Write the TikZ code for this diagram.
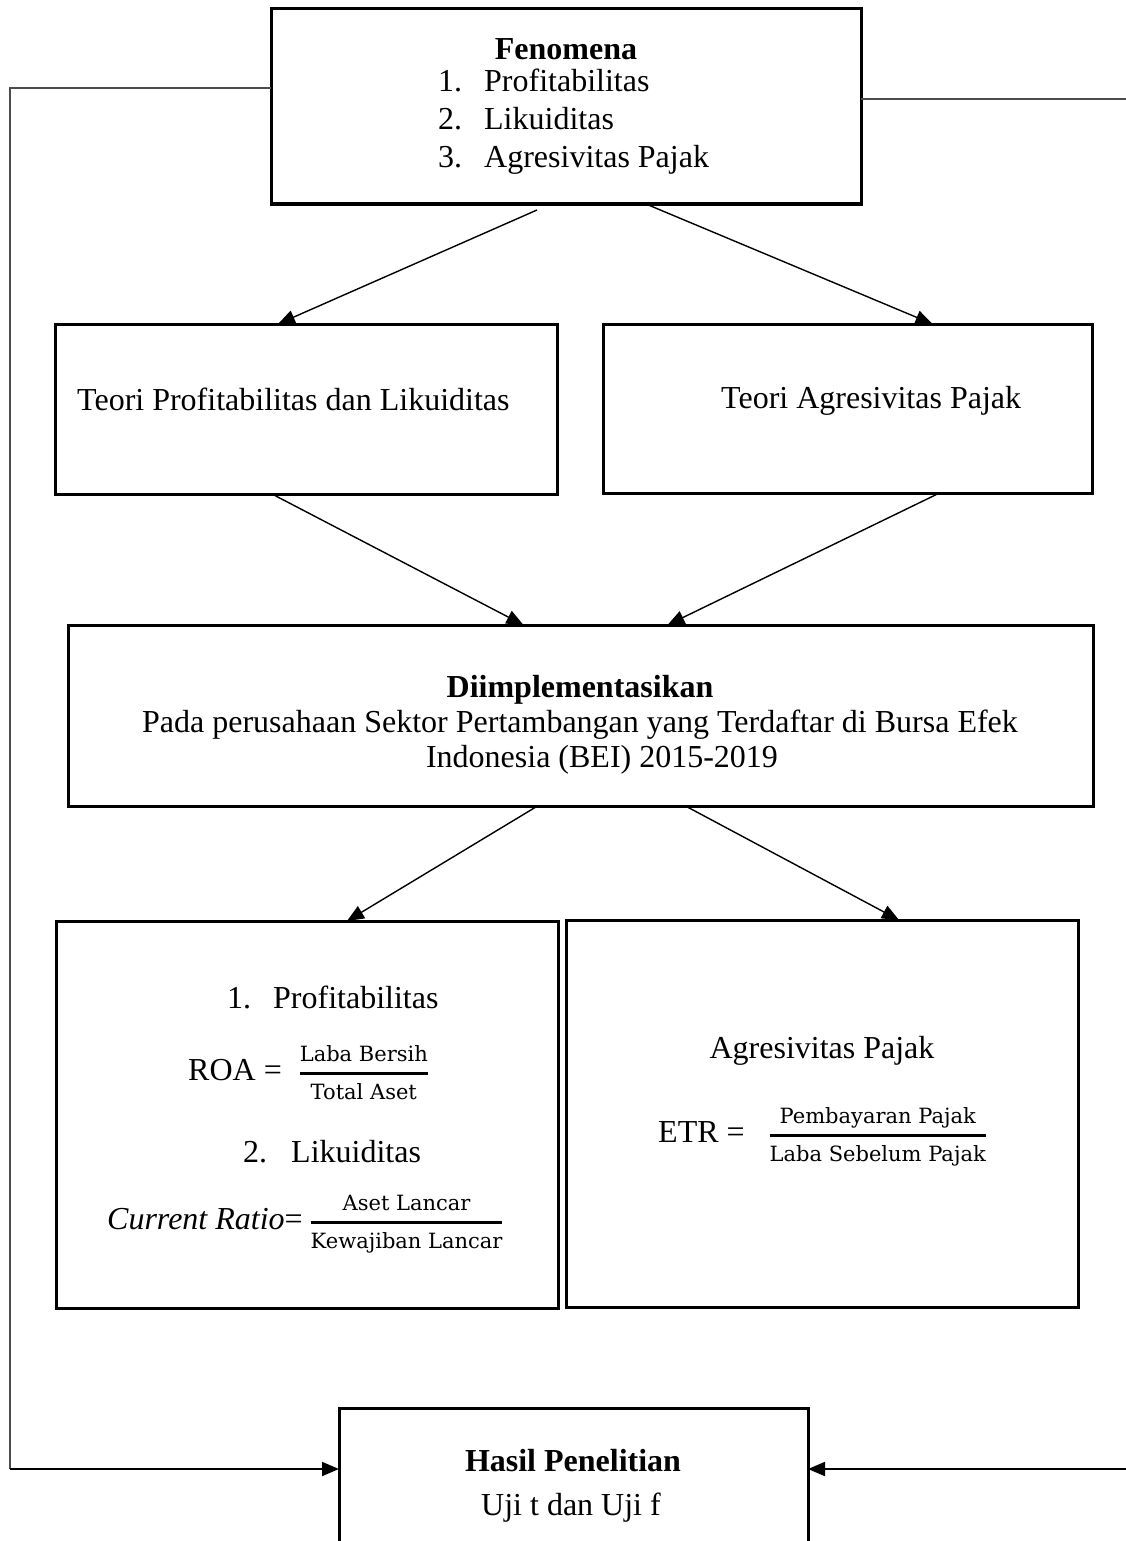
\documentclass[tikz,border=0pt]{standalone}
\usepackage{fontspec}
\setmainfont{Liberation Serif}
\newfontfamily\pecahanfont{DejaVu Serif}
\usetikzlibrary{arrows.meta}
\setlength{\arrayrulewidth}{2.8pt}
\newcommand{\pecahan}[2]{{\renewcommand{\arraystretch}{0.92}%
  \begin{tabular}{@{}c@{}}{\pecahanfont\fontsize{21}{24}\selectfont #1}\\\hline
  {\pecahanfont\fontsize{21}{24}\selectfont #2}\end{tabular}}}
\begin{document}
\begin{tikzpicture}[x=1pt, y=-1pt,
    kotak/.style={draw, rectangle, line width=3pt, inner sep=0pt, outer sep=0pt},
    teks/.style={inner sep=0pt, font=\fontsize{32}{38}\selectfont},
    panah/.style={line width=1.4pt, -{Triangle[length=17pt, width=14pt]}},
    garis/.style={line width=1.8pt, black!70}]
    \useasboundingbox (0,0) rectangle (1125,1541);

    % Kotak
    \node[kotak, minimum width=590pt, minimum height=195pt] (fenomena) at (566,106.5) {};
    \node[kotak, minimum width=502pt, minimum height=170pt] (teoriKiri) at (306,409) {};
    \node[kotak, minimum width=489pt, minimum height=169pt] (teoriKanan) at (847.5,408.5) {};
    \node[kotak, minimum width=1025pt, minimum height=181pt] (implementasi) at (580.5,715.5) {};
    \node[kotak, minimum width=502pt, minimum height=387pt] (rumusKiri) at (307,1114.5) {};
    \node[kotak, minimum width=512pt, minimum height=387pt] (rumusKanan) at (822,1113.5) {};
    \node[kotak, minimum width=469pt, minimum height=192pt] (hasil) at (573.5,1504) {};

    % Teks fenomena
    \node[teks, anchor=base] (judulFenomena) at (566,60) {\textbf{Fenomena}};
    \node[teks, anchor=base west] (fenSatu) at (438,92) {\makebox[46pt][l]{1.}Profitabilitas};
    \node[teks, anchor=base west] (fenDua) at (438,130) {\makebox[46pt][l]{2.}Likuiditas};
    \node[teks, anchor=base west] (fenTiga) at (438,168) {\makebox[46pt][l]{3.}Agresivitas Pajak};

    % Teks teori
    \node[teks, anchor=base west] (teksTeoriKiri) at (77,410) {Teori Profitabilitas dan Likuiditas};
    \node[teks, anchor=base west] (teksTeoriKanan) at (721,408) {Teori Agresivitas Pajak};

    % Teks implementasi
    \node[teks, anchor=base] (judulImpl) at (580,697) {\textbf{Diimplementasikan}};
    \node[teks, anchor=base] (implSatu) at (580,732) {Pada perusahaan Sektor Pertambangan yang Terdaftar di Bursa Efek};
    \node[teks, anchor=base] (implDua) at (602,767) {Indonesia (BEI) 2015-2019};

    % Teks rumus
    \node[teks, anchor=base west] (rumusSatu) at (227,1008) {\makebox[46pt][l]{1.}Profitabilitas};
    \node[teks, anchor=base west] (roa) at (188,1080) {ROA =\hspace{18pt}\pecahan{Laba Bersih}{Total Aset}};
    \node[teks, anchor=base west] (rumusDua) at (243,1162) {\makebox[48pt][l]{2.}Likuiditas};
    \node[teks, anchor=base west] (cr) at (107,1229) {\textit{Current Ratio}=\hspace{8pt}\pecahan{Aset Lancar}{Kewajiban Lancar}};
    \node[teks, anchor=base] (rumusTiga) at (822,1058) {Agresivitas Pajak};
    \node[teks, anchor=base west] (etr) at (658,1142) {ETR =\hspace{25pt}\pecahan{Pembayaran Pajak}{Laba Sebelum Pajak}};

    % Teks hasil
    \node[teks, anchor=base] (judulHasil) at (573,1471) {\textbf{Hasil Penelitian}};
    \node[teks, anchor=base] (uji) at (571,1515) {Uji t dan Uji f};

    % Titik bebas
    \coordinate (sudutKiri) at (10,88);
    \coordinate (bawahKiri) at (10,1469);
    \coordinate (kananAtas) at (1130,99);
    \coordinate (kananBawah) at (1130,1469);

    % Panah
    \draw[panah] ([xshift=-29pt, yshift=-6pt]fenomena.south) -- ([xshift=-28pt]teoriKiri.north);
    \draw[panah] ([xshift=80pt]fenomena.south) -- ([xshift=85pt]teoriKanan.north);
    \draw[panah] ([xshift=-34pt]teoriKiri.south) -- ([xshift=-57pt]implementasi.north);
    \draw[panah] ([xshift=92pt]teoriKanan.south) -- ([xshift=87pt]implementasi.north);
    \draw[panah] ([xshift=-43pt]implementasi.south) -- ([xshift=40pt]rumusKiri.north);
    \draw[panah] ([xshift=105pt]implementasi.south) -- ([xshift=77pt]rumusKanan.north);

    % Garis samping
    \draw[garis] ([yshift=18.5pt]fenomena.west) -- (sudutKiri) -- (bawahKiri);
    \draw[garis] ([yshift=7.5pt]fenomena.east) -- (kananAtas);
    \draw[panah, line width=1.8pt] (bawahKiri) -- ([yshift=35pt]hasil.west);
    \draw[panah, line width=1.8pt] (kananBawah) -- ([yshift=35pt]hasil.east);
\end{tikzpicture}
\end{document}
